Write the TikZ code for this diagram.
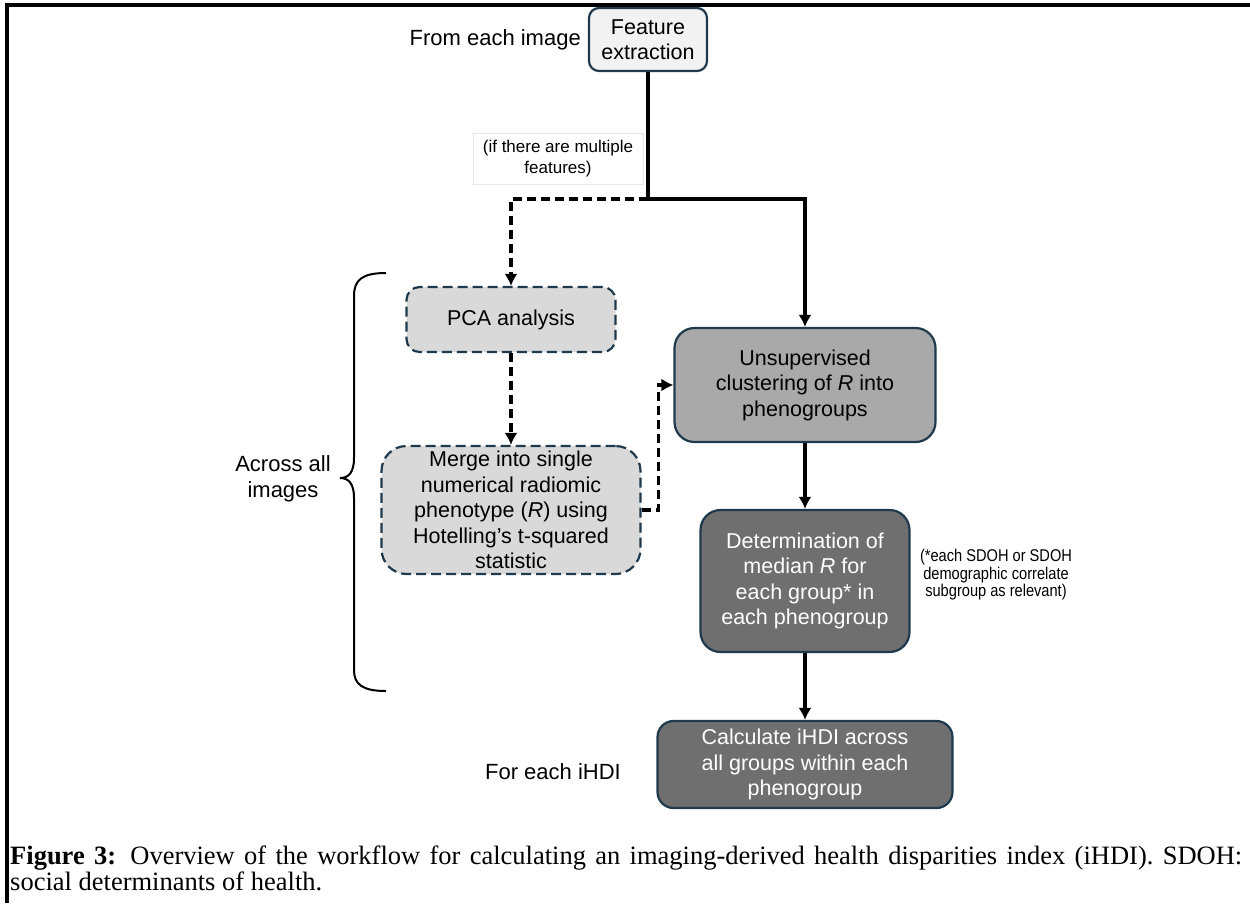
\documentclass[tikz,border=0pt]{standalone}
\usepackage{fontspec}
\setmainfont{Liberation Sans}
\newfontfamily\capfont{Liberation Serif}
\newfontfamily\narrowfont[FakeStretch=0.86]{Liberation Sans}
\usetikzlibrary{arrows.meta}
\definecolor{edgeblue}{HTML}{1F3A4D}
\definecolor{lightfill}{HTML}{F2F2F2}
\definecolor{pcafill}{HTML}{D9D9D9}
\definecolor{midfill}{HTML}{A9A9A9}
\definecolor{darkfill}{HTML}{6F6F6F}
\definecolor{labeledge}{HTML}{E6E6E6}
\tikzset{
  basebox/.style={draw=edgeblue, line width=2.2pt, align=center, inner sep=0pt,
    font=\fontsize{21.5}{25.5}\selectfont},
  featbox/.style={basebox, fill=lightfill, rounded corners=10pt},
  dashbox/.style={basebox, fill=pcafill, dash pattern=on 10pt off 5pt},
  midbox/.style={basebox, fill=midfill, rounded corners=20pt},
  darkbox/.style={basebox, fill=darkfill, text=white, rounded corners=20pt},
  conn/.style={line width=3.4pt, -{Latex[length=12pt,width=13pt]}},
  dconn/.style={conn, dash pattern=on 9pt off 5pt},
  plainlabel/.style={align=center, inner sep=0pt, font=\fontsize{22}{26}\selectfont},
}
\begin{document}
\begin{tikzpicture}[x=1pt,y=-1pt]
\useasboundingbox (0,0) rectangle (1250,903);
% frame
\draw[line width=4pt] (7,903) -- (7,5) -- (1250,5);

% boxes
\node[featbox, minimum width=118pt, minimum height=63pt] (feat) at (648,39.5) {Feature\\extraction};
\node[dashbox, rounded corners=13pt, minimum width=209pt, minimum height=65pt] (pca) at (511,319.5) {PCA analysis};
\node[dashbox, rounded corners=25pt, minimum width=259pt, minimum height=128pt] (merge) at (511,510) {Merge into single\\numerical radiomic\\phenotype (\textit{R}) using\\Hotelling’s t-squared\\statistic};
\node[midbox, minimum width=261pt, minimum height=114pt] (unsup) at (805,385) {Unsupervised\\clustering of \textit{R} into\\phenogroups};
\node[darkbox, minimum width=209pt, minimum height=142pt] (determ) at (805,581) {Determination of\\median \textit{R} for\\each group* in\\each phenogroup};
\node[darkbox, rounded corners=16pt, minimum width=295pt, minimum height=87pt] (calc) at (805,764.5) {Calculate iHDI across\\all groups within each\\phenogroup};

% labels
\node[plainlabel, anchor=east] (fromeach) at (581,40) {From each image};
\node[draw=labeledge, line width=0.6pt, align=center, minimum width=170pt, minimum height=51pt, inner sep=0pt,
  font=\fontsize{17}{21}\selectfont] (ifmulti) at (558,158.5) {(if there are multiple\\features)};
\node[plainlabel] (across) at (283,479) {Across all\\images};
\node[plainlabel] (foreach) at (553,772) {For each iHDI};
\node[align=center, inner sep=0pt, font=\narrowfont\fontsize{17}{17.5}\selectfont] (sdoh) at (996,575) {(*each SDOH or SDOH\\demographic correlate\\subgroup as relevant)};

% connectors
\coordinate (split) at (648,199);
\draw[conn] (feat.south) -- (split) -| (unsup.north);
\draw[dconn] (split) -| (pca.north);
\draw[dconn] (pca.south) -- (merge.north);
\draw[dconn] (merge.east) -- ++(17,0) |- (unsup.west);
\draw[conn] (unsup.south) -- (determ.north);
\draw[conn] (determ.south) -- (calc.north);

% brace
\draw[line width=2pt] (386,273) .. controls (362,273) and (354,280) .. (354,296)
  -- (354,458) .. controls (354,472) and (349,478) .. (340,478)
  .. controls (349,478) and (354,484) .. (354,498)
  -- (354,670) .. controls (354,684) and (362,691) .. (386,691);

% caption
\node[anchor=north west, align=left, inner sep=0pt, font=\capfont\fontsize{26.5}{26}\selectfont] (caption) at (10,846)
 {\makebox[1232pt][s]{\textbf{Figure 3:} Overview of the workflow for calculating an imaging-derived health disparities index (iHDI). SDOH:}\\social determinants of health.};
\end{tikzpicture}
\end{document}
